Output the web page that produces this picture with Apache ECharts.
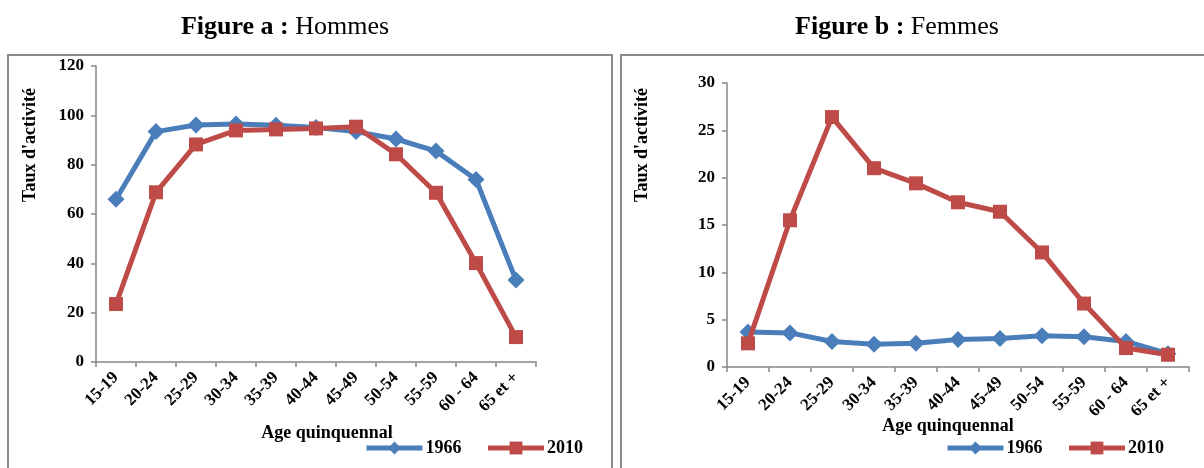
<!DOCTYPE html>
<html>
<head>
<meta charset="utf-8">
<script src="https://cdn.jsdelivr.net/npm/echarts@6/dist/echarts.min.js"></script>
<style>
  html, body { margin: 0; padding: 0; background: #fff; }
  #chart { width: 1204px; height: 468px; }
</style>
</head>
<body>
<div id="chart"></div>
<script>
// Tranches d'âge quinquennales
const ages = ['15-19', '20-24', '25-29', '30-34', '35-39', '40-44', '45-49', '50-54', '55-59', '60 - 64', '65 et +'];

// Taux d'activité des hommes
const hommes1966 = [66, 93.4, 96.1, 96.5, 96, 95.1, 93.4, 90.4, 85.5, 74, 33.2];
const hommes2010 = [23.5, 68.8, 88.2, 93.9, 94.3, 94.7, 95.4, 84.2, 68.6, 40.1, 10.1];

// Taux d'activité des femmes
const femmes1966 = [3.7, 3.6, 2.7, 2.4, 2.5, 2.9, 3.0, 3.3, 3.2, 2.7, 1.4];
const femmes2010 = [2.5, 15.5, 26.4, 21.0, 19.4, 17.4, 16.4, 12.1, 6.7, 2.0, 1.3];

// Graduations des axes verticaux
const hommesTicks = { min: 0, max: 120, interval: 20 };
const femmesTicks = { min: 0, max: 30, interval: 5 };

const BLUE = '#4a7ebb';
const RED = '#be4b48';
const AXIS = '#868686';
const FONT = '"Liberation Serif", "Times New Roman", serif';

const chart = echarts.init(document.getElementById('chart'), null, { renderer: 'canvas' });

function xAxis(gridIndex) {
  return {
    type: 'category',
    gridIndex: gridIndex,
    data: ages,
    boundaryGap: true,
    axisLine: { lineStyle: { color: AXIS, width: 1.5 } },
    axisTick: { show: true, length: 5, lineStyle: { color: AXIS, width: 1.5 } },
    axisLabel: { rotate: 45, margin: 13, interval: 0, fontFamily: FONT, fontWeight: 'bold', fontSize: 17, color: '#000' },
    splitLine: { show: false }
  };
}

function yAxis(gridIndex, ticks) {
  return {
    type: 'value',
    gridIndex: gridIndex,
    min: ticks.min,
    max: ticks.max,
    interval: ticks.interval,
    axisLine: { show: true, lineStyle: { color: AXIS, width: 1.5 } },
    axisTick: { show: true, length: 5, lineStyle: { color: AXIS, width: 1.5 } },
    axisLabel: { margin: 12, fontFamily: FONT, fontWeight: 'bold', fontSize: 17, color: '#000' },
    splitLine: { show: false }
  };
}

function lineSeries(name, data, idx, color, symbol, size) {
  return {
    name: name,
    type: 'line',
    xAxisIndex: idx,
    yAxisIndex: idx,
    data: data,
    symbol: symbol,
    symbolSize: size,
    showAllSymbol: true,
    lineStyle: { color: color, width: 5 },
    itemStyle: { color: color },
    emphasis: { disabled: true },
    animation: false,
    z: name === '2010' ? 3 : 2
  };
}

const legendText = { fontFamily: FONT, fontWeight: 'bold', fontSize: 18, color: '#000', padding: [0, 0, 0, -2] };

function legend(left) {
  return {
    left: left, top: 439, itemWidth: 56, itemHeight: 16, itemGap: 24,
    data: ['1966', '2010'], textStyle: legendText, padding: 0,
    lineStyle: { width: 5 }
  };
}

function text(x, y, str, size, rotation) {
  return {
    type: 'text', x: x, y: y, rotation: rotation || 0, silent: true,
    style: {
      text: str,
      fontFamily: FONT, fontWeight: 'bold', fontSize: size,
      fill: '#000', align: 'center', verticalAlign: 'middle'
    }
  };
}

function title(x, bold, rest) {
  return {
    type: 'text', x: x, y: 27, silent: true,
    style: {
      text: '{b|' + bold + '} ' + rest,
      fontFamily: FONT, fontSize: 26, fill: '#000',
      align: 'center', verticalAlign: 'middle',
      rich: { b: { fontFamily: FONT, fontWeight: 'bold', fontSize: 26, fill: '#000' } }
    }
  };
}

chart.setOption({
  animation: false,
  backgroundColor: '#fff',
  grid: [
    { left: 96, top: 66, width: 440, height: 296 },
    { left: 727, top: 83, width: 462, height: 284 }
  ],
  xAxis: [xAxis(0), xAxis(1)],
  yAxis: [yAxis(0, hommesTicks), yAxis(1, femmesTicks)],
  legend: [legend(364), legend(945)],
  series: [
    lineSeries('1966', hommes1966, 0, BLUE, 'diamond', 17),
    lineSeries('2010', hommes2010, 0, RED, 'rect', 14),
    lineSeries('1966', femmes1966, 1, BLUE, 'diamond', 17),
    lineSeries('2010', femmes2010, 1, RED, 'rect', 14)
  ],
  graphic: [
    {
      type: 'rect', silent: true,
      shape: { x: 8, y: 55, width: 604, height: 430 },
      style: { fill: 'none', stroke: '#8a8a8a', lineWidth: 2 }
    },
    {
      type: 'rect', silent: true,
      shape: { x: 621, y: 55, width: 600, height: 430 },
      style: { fill: 'none', stroke: '#8a8a8a', lineWidth: 2 }
    },
    title(285, 'Figure a :', 'Hommes'),
    title(897, 'Figure b :', 'Femmes'),
    text(30, 145, "Taux d'activité", 18, Math.PI / 2),
    text(642, 145, "Taux d'activité", 18, Math.PI / 2),
    text(327, 433, 'Age quinquennal', 18),
    text(948, 426, 'Age quinquennal', 18)
  ]
});
</script>
</body>
</html>
